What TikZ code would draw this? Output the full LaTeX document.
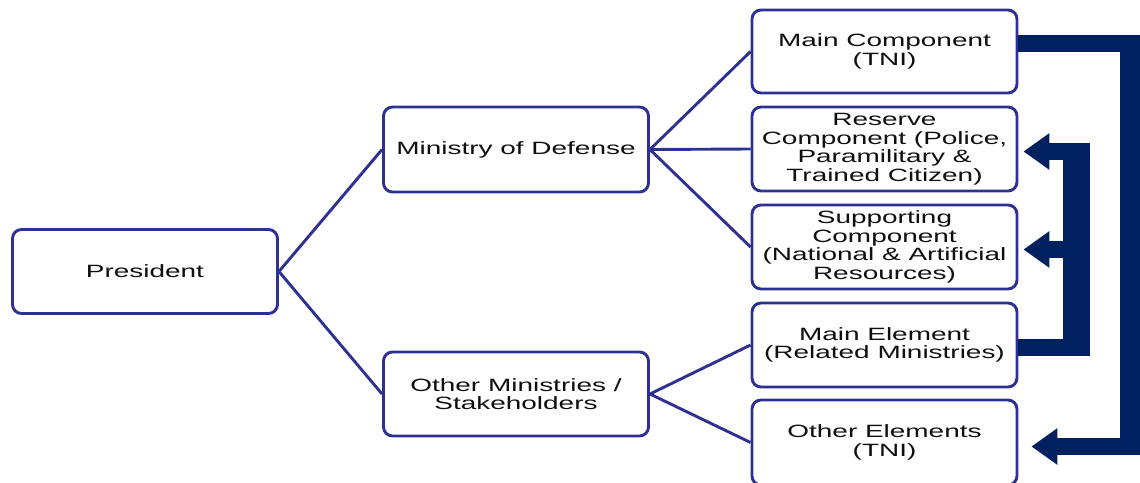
\documentclass[tikz,border=0pt]{standalone}
\usepackage{fontspec}
\setmainfont{Liberation Sans}[FakeStretch=1.57]
\usetikzlibrary{arrows.meta,calc}
\definecolor{boxblue}{RGB}{46,49,146}
\definecolor{navy}{RGB}{0,32,96}
\definecolor{txt}{RGB}{15,15,15}
\begin{document}
\begin{tikzpicture}[x=1pt,y=-1pt,
  orgbox/.style={draw=boxblue, line width=2.9pt, rounded corners=9pt, fill=white,
    minimum width=265pt, minimum height=84pt, align=center, inner sep=2pt,
    text=txt, font=\fontsize{17.8}{18.5}\selectfont},
  link/.style={draw=boxblue, line width=2.9pt},
  bigline/.style={draw=navy, line width=17pt, line join=miter, line cap=butt},
  bighead/.style={-{Triangle[length=26pt,width=35pt]}}]
\useasboundingbox (0,0) rectangle (1140,482);
\clip (0,0) rectangle (1140,482);
% nodes
\node[orgbox] (pres) at (145,271.5) {President};
\node[orgbox, minimum height=85pt] (mod) at (516,149.5) {Ministry of Defense};
\node[orgbox] (oth) at (516,394) {Other Ministries /\\Stakeholders};
\node[orgbox, minimum height=83pt] (mc) at (884.5,51.5) {Main Component\\(TNI)};
\node[orgbox] (rc) at (884.5,149) {Reserve\\Component (Police,\\Paramilitary \&\\Trained Citizen)};
\node[orgbox] (sc) at (884.5,247) {Supporting\\Component\\(National \& Artificial\\Resources)};
\node[orgbox] (me) at (884.5,345) {Main Element\\(Related Ministries)};
\node[orgbox, minimum height=85pt] (oe) at (884.5,442.5) {Other Elements\\(TNI)};
% thin connectors
\draw[link] (pres.east) -- (mod.west);
\draw[link] (pres.east) -- (oth.west);
\draw[link] (mod.east) -- (mc.west);
\draw[link] (mod.east) -- (rc.west);
\draw[link] (mod.east) -- (sc.west);
\draw[link] (oth.east) -- (me.west);
\draw[link] (oth.east) -- (oe.west);
% outer thick arrow: Main Component -> Other Elements
\coordinate (rail) at (1129.5,250);
\fill[navy] (1119.5,35) rectangle (1141,455);
\draw[bigline, bighead] ([yshift=8pt]mc.east) -| (rail) |- ([xshift=13pt,yshift=-4pt]oe.east);
% inner thick arrows: Main Element -> Reserve / Supporting
\coordinate (railtop) at (1076.5,143);
\coordinate (railbot) at (1076.5,356);
\draw[navy, line width=27pt, line cap=butt] (railtop) -- (railbot);
\draw[bigline] ([yshift=-2pt]me.east) -- ([xshift=13.5pt]railbot |- 0,347);
\draw[bigline, bighead] (1090,151.5) -- ([xshift=5pt,yshift=-2.5pt]rc.east);
\draw[bigline, bighead] (1064,249.5) -- ([xshift=5pt,yshift=-2.5pt]sc.east);
\end{tikzpicture}
\end{document}
